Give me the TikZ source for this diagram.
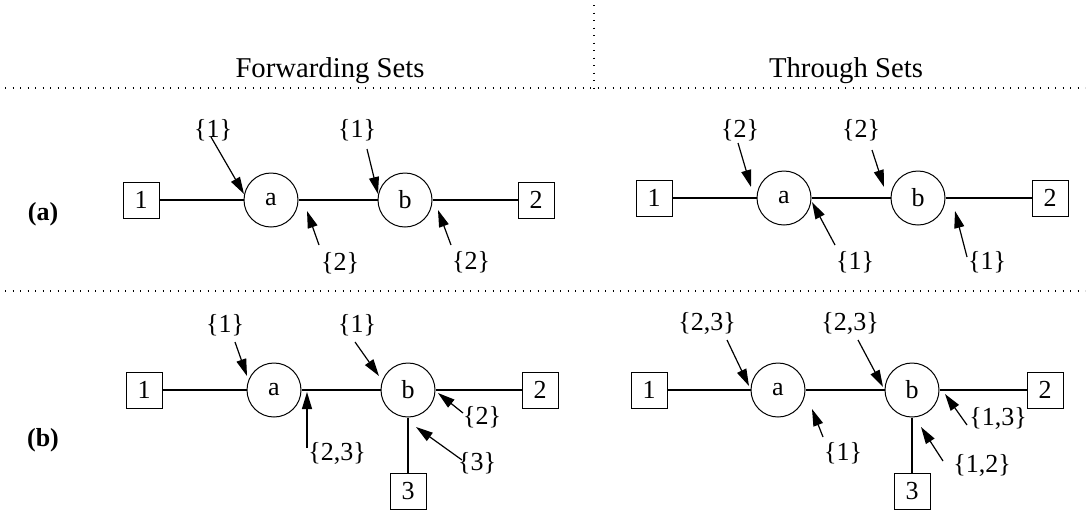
\documentclass[tikz,border=0pt]{standalone}
\usepackage{fontspec}
\setmainfont{Liberation Serif}
\usetikzlibrary{arrows.meta}
\begin{document}
\begin{tikzpicture}[x=1pt,y=-1pt,
  lbl/.style={font=\fontsize{26}{30}\selectfont, inner sep=0pt},
  ttl/.style={font=\fontsize{28.7}{32}\selectfont, inner sep=0pt, anchor=base},
  rowlbl/.style={font=\fontsize{26}{30}\selectfont\bfseries, inner sep=0pt},
  term/.style={draw, line width=1pt, minimum size=36pt, inner sep=0pt, font=\fontsize{26}{30}\selectfont},
  sw/.style={draw, circle, line width=1pt, minimum size=54pt, inner sep=0pt, font=\fontsize{26}{30}\selectfont},
  link/.style={line width=2.2pt},
  ptr/.style={line width=1.2pt, -{Triangle[length=17pt,width=10pt]}},
  sep/.style={line width=1.1pt, dash pattern=on 1.1pt off 6.4pt}]
\useasboundingbox (0,0) rectangle (1089,512);

% separators
\coordinate (vt) at (594,5);
\coordinate (vb) at (594,88);
\coordinate (h1l) at (5,88);
\coordinate (h1r) at (1085,88);
\coordinate (h2l) at (5,291);
\coordinate (h2r) at (1085,291);
\draw[sep] (vt) -- (vb);
\draw[sep] (h1l) -- (h1r);
\draw[sep] (h2l) -- (h2r);

% titles
\node[ttl] (tf) at (330,77) {Forwarding Sets};
\node[ttl] (tt) at (846,77) {Through Sets};

% row labels
\node[rowlbl] (ra) at (43,214) {(a)};
\node[rowlbl] (rb) at (43,440) {(b)};

% ---------- Row (a), Forwarding ----------
\node[term] (af1) at (141,200) {1};
\node[sw] (afa) at (271,200) {a};
\node[sw] (afb) at (405,200) {b};
\node[term] (af2) at (536,200) {2};
\draw[link] (af1) -- (afa) -- (afb) -- (af2);

\node[lbl] (afl1) at (213,130) {\{1\}};
\node[lbl] (afl2) at (357,130) {\{1\}};
\node[lbl] (afl3) at (340,263) {\{2\}};
\node[lbl] (afl4) at (471,262) {\{2\}};
\coordinate (afs1) at (211,137); \coordinate (afe1) at (244,194);
\coordinate (afs2) at (367,149); \coordinate (afe2) at (378,194);
\coordinate (afs3) at (319,245); \coordinate (afe3) at (307,211);
\coordinate (afs4) at (451,245); \coordinate (afe4) at (438,210);
\draw[ptr] (afs1) -- (afe1);
\draw[ptr] (afs2) -- (afe2);
\draw[ptr] (afs3) -- (afe3);
\draw[ptr] (afs4) -- (afe4);

% ---------- Row (a), Through ----------
\node[term] (at1) at (654,198) {1};
\node[sw] (ata) at (784,198) {a};
\node[sw] (atb) at (918,198) {b};
\node[term] (at2) at (1050,198) {2};
\draw[link] (at1) -- (ata) -- (atb) -- (at2);

\node[lbl] (atl1) at (740,130) {\{2\}};
\node[lbl] (atl2) at (861,130) {\{2\}};
\node[lbl] (atl3) at (855,262) {\{1\}};
\node[lbl] (atl4) at (987,262) {\{1\}};
\coordinate (ats1) at (738,143); \coordinate (ate1) at (751,187);
\coordinate (ats2) at (872,150); \coordinate (ate2) at (884,187);
\coordinate (ats3) at (835,245); \coordinate (ate3) at (812,202);
\coordinate (ats4) at (967,257); \coordinate (ate4) at (955,211);
\draw[ptr] (ats1) -- (ate1);
\draw[ptr] (ats2) -- (ate2);
\draw[ptr] (ats3) -- (ate3);
\draw[ptr] (ats4) -- (ate4);

% ---------- Row (b), Forwarding ----------
\node[term] (bf1) at (144,390) {1};
\node[sw] (bfa) at (274,390) {a};
\node[sw] (bfb) at (408,390) {b};
\node[term] (bf2) at (540,390) {2};
\node[term] (bf3) at (408,491) {3};
\draw[link] (bf1) -- (bfa) -- (bfb) -- (bf2);
\draw[link] (bfb) -- (bf3);

\node[lbl] (bfl1) at (225,325) {\{1\}};
\node[lbl] (bfl2) at (357,325) {\{1\}};
\node[lbl] (bfl3) at (337,453) {\{2,3\}};
\node[lbl] (bfl4) at (482,417) {\{2\}};
\node[lbl] (bfl5) at (477,463) {\{3\}};
\coordinate (bfs1) at (235,342); \coordinate (bfe1) at (247,376);
\coordinate (bfs2) at (355,342); \coordinate (bfe2) at (379,376);
\coordinate (bfs3) at (307,448); \coordinate (bfe3) at (307,392);
\coordinate (bfs4) at (463,413); \coordinate (bfe4) at (438,393);
\coordinate (bfs5) at (462,460); \coordinate (bfe5) at (416,427);
\draw[ptr] (bfs1) -- (bfe1);
\draw[ptr] (bfs2) -- (bfe2);
\draw[ptr] (bfs3) -- (bfe3);
\draw[ptr] (bfs4) -- (bfe4);
\draw[ptr] (bfs5) -- (bfe5);

% ---------- Row (b), Through ----------
\node[term] (bt1) at (649,390) {1};
\node[sw] (bta) at (778,390) {a};
\node[sw] (btb) at (912,390) {b};
\node[term] (bt2) at (1045,390) {2};
\node[term] (bt3) at (912,491) {3};
\draw[link] (bt1) -- (bta) -- (btb) -- (bt2);
\draw[link] (btb) -- (bt3);

\node[lbl] (btl1) at (707,323) {\{2,3\}};
\node[lbl] (btl2) at (850,323) {\{2,3\}};
\node[lbl] (btl3) at (843,453) {\{1\}};
\node[lbl] (btl4) at (998,418) {\{1,3\}};
\node[lbl] (btl5) at (982,465) {\{1,2\}};
\coordinate (bts1) at (727,340); \coordinate (bte1) at (749,386);
\coordinate (bts2) at (858,340); \coordinate (bte2) at (883,387);
\coordinate (bts3) at (823,437); \coordinate (bte3) at (812,409);
\coordinate (bts4) at (967,425); \coordinate (bte4) at (945,394);
\coordinate (bts5) at (943,461); \coordinate (bte5) at (921,427);
\draw[ptr] (bts1) -- (bte1);
\draw[ptr] (bts2) -- (bte2);
\draw[ptr] (bts3) -- (bte3);
\draw[ptr] (bts4) -- (bte4);
\draw[ptr] (bts5) -- (bte5);
\end{tikzpicture}
\end{document}
